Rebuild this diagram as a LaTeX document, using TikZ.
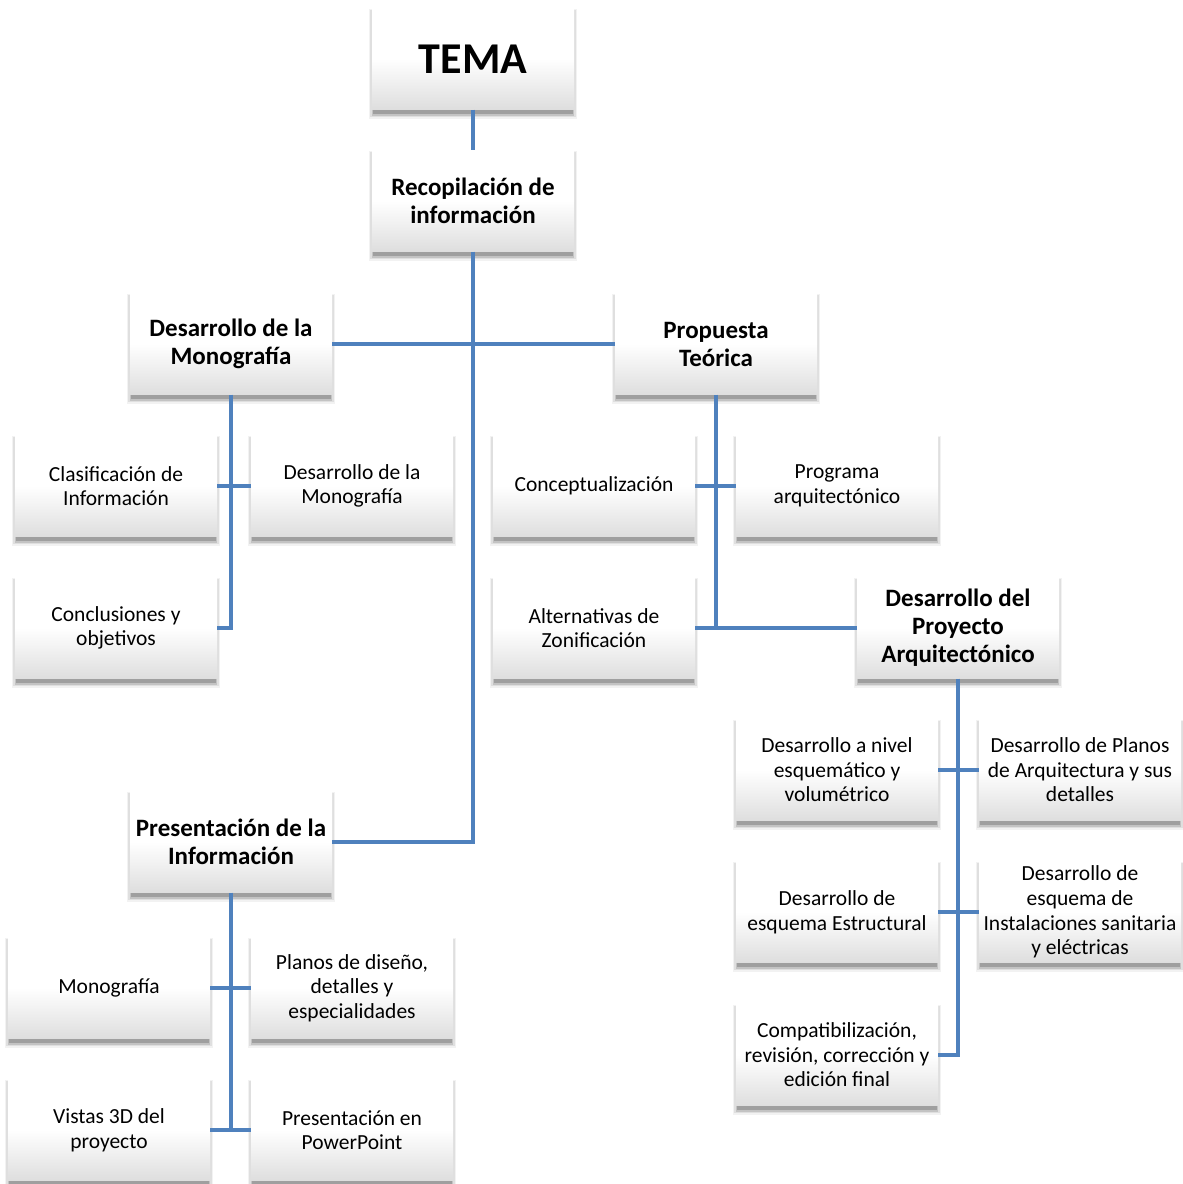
\documentclass[tikz,border=0pt]{standalone}
\usepackage{fontspec}
\setmainfont{Carlito}
\usetikzlibrary{backgrounds}
\definecolor{linkblue}{HTML}{4F81BD}
\tikzset{
  box/.style={rectangle, minimum width=202pt, minimum height=101pt, inner sep=0pt,
    align=center, top color=white, bottom color=black!13, middle color=white,
    font=\fontsize{21.5}{24.6}\selectfont},
  bbox/.style={box, font=\fontsize{25}{28}\selectfont\bfseries},
  conn/.style={draw=linkblue, line width=3.2pt},
  shade1/.style={fill=black, opacity=0.05},
  shade2/.style={fill=black, opacity=0.08},
  shade3/.style={fill=black, opacity=0.12},
  shade4/.style={fill=black, opacity=0.18}
}
\begin{document}
\begin{tikzpicture}[x=1pt,y=-1pt]
\useasboundingbox (0,0) rectangle (1183,1184);
% nodes
\node[box, font=\fontsize{44}{50}\selectfont\bfseries] (tema) at (473,59) {TEMA};
\node[bbox] (rec) at (473,201) {Recopilación de\\información};
\node[bbox] (dm) at (231,344) {Desarrollo de la\\Monografía};
\node[bbox] (pt) at (716,344) {Propuesta\\Teórica};
\node[box] (clas) at (116,486) {Clasificación de\\Información};
\node[box] (dm2) at (352,486) {Desarrollo de la\\Monografía};
\node[box] (concl) at (116,628) {Conclusiones y\\objetivos};
\node[box] (concep) at (594,486) {Conceptualización};
\node[box] (prog) at (837,486) {Programa\\arquitectónico};
\node[box] (alt) at (594,628) {Alternativas de\\Zonificación};
\node[bbox] (dpa) at (958,628) {Desarrollo del\\Proyecto\\Arquitectónico};
\node[box] (niv) at (837,770) {Desarrollo a nivel\\esquemático y\\volumétrico};
\node[box] (plan) at (1080,770) {Desarrollo de Planos\\de Arquitectura y sus\\detalles};
\node[box] (estr) at (837,912) {Desarrollo de\\esquema Estructural};
\node[box] (inst) at (1080,912) {Desarrollo de\\esquema de\\Instalaciones sanitaria\\y eléctricas};
\node[box] (comp) at (837,1055) {Compatibilización,\\revisión, corrección y\\edición final};
\node[bbox] (pres) at (231,842) {Presentación de la\\Información};
\node[box] (mono) at (109,988) {Monografía};
\node[box] (pld) at (352,988) {Planos de diseño,\\detalles y\\especialidades};
\node[box] (vis) at (109,1130) {Vistas 3D del\\proyecto};
\node[box] (ppt) at (352,1130) {Presentación en\\PowerPoint};
% background and soft shadows
\begin{pgfonlayer}{background}
\fill[white] (0,0) rectangle (1183,1184);
\foreach \n in {tema,rec,dm,pt,clas,dm2,concl,concep,prog,alt,dpa,niv,plan,estr,inst,comp,pres,mono,pld,vis,ppt}{
  \fill[shade1] ([xshift=-3pt,yshift=-1pt]\n.north west) rectangle ([xshift=3pt,yshift=-9pt]\n.south east);
  \fill[shade2] ([xshift=-1.5pt,yshift=-2pt]\n.north west) rectangle ([xshift=1.5pt,yshift=-7.5pt]\n.south east);
  \fill[shade3] ([xshift=0pt,yshift=-3pt]\n.north west) rectangle ([xshift=0pt,yshift=-6pt]\n.south east);
  \fill[shade4] ([xshift=1.5pt,yshift=-4pt]\n.north west) rectangle ([xshift=-1.5pt,yshift=-4.5pt]\n.south east);
}
\end{pgfonlayer}
% connectors
\draw[conn] (tema) -- (rec);
\draw[conn] (rec.south) |- (pres.east);
\draw[conn] (dm.east) -- (pt.west);
\draw[conn] (dm.south) |- (concl.east);
\draw[conn] (clas.east) -- (dm2.west);
\draw[conn] (pt.south) |- (dpa.west);
\draw[conn] (alt.east) -- (dpa.west);
\draw[conn] (concep.east) -- (prog.west);
\draw[conn] (dpa.south) |- (comp.east);
\draw[conn] (niv.east) -- (plan.west);
\draw[conn] (estr.east) -- (inst.west);
\draw[conn] (pres.south) |- (vis.east);
\draw[conn] (mono.east) -- (pld.west);
\draw[conn] (vis.east) -- (ppt.west);
\end{tikzpicture}
\end{document}
